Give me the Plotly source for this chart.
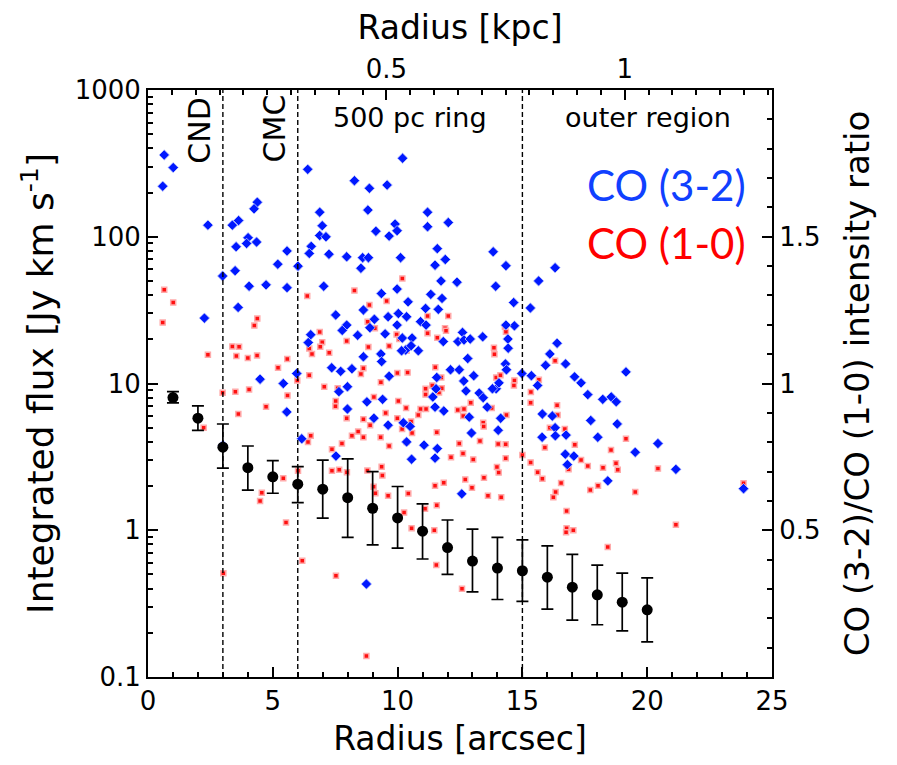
import plotly.graph_objects as go

# CO (3-2) integrated flux per clump: radius [arcsec], flux [Jy km/s]
co32_r = [0.65, 1.01, 0.59, 2.40, 2.26, 2.99, 3.38, 3.63, 4.38, 4.25, 4.01, 3.95, 4.35, 3.53, 3.49, 4.05, 4.73, 3.61,
          5.57, 5.2, 5.57, 6.01, 6.4, 6.88, 6.98, 6.88, 7.13, 6.54, 6.46, 7.25, 7.04, 8.27, 8.87, 9.58, 10.2, 8.81,
          9.13, 9.66, 9.9, 9.98, 11.2, 11.2, 12.03, 7.96, 8.6, 8.83, 8.53, 10.12, 11.59, 11.5, 11.91, 12.38, 11.74,
          11.33, 11.78, 10.42, 9.98, 9.35, 8.63, 7.52, 7.96, 9.07, 9.62, 10.03, 10.36, 11.12, 11.63, 10.92, 11.14,
          9.98, 8.89, 7.78, 13.83, 14.34, 13.93, 14.65, 14.68, 15.65, 16.31, 15.32, 8.4, 9.5, 10.32, 6.52, 6.42,
          8.63, 9.33, 9.36, 7.36, 7.72, 8.17, 9.66, 5.96, 7.99, 7.65, 9.4, 8.77, 7.99, 9.05, 9.62, 10.23, 6.16, 7.53,
          10.36, 12.6, 11.83, 12.42, 12.66, 12.91, 13.41, 10.19, 10.58, 10.54, 10.16, 10.83, 14.34, 14.42, 14.43,
          12.81, 14.32, 14.36, 12.12, 12.47, 12.65, 12.74, 11.57, 11.54, 11.41, 13.27, 13.43, 13.95, 13.8, 13.59,
          11.5, 11.85, 12.87, 14.13, 10.5, 14.03, 12.96, 11.06, 11.59, 10.56, 14.98, 16.39, 16.1, 15.93, 16.73,
          15.36, 15.61, 17.09, 17.35, 17.62, 18.22, 18.56, 18.76, 19.15, 15.8, 16.2, 16.31, 17.74, 18.8, 15.79,
          16.32, 16.75, 18.02, 16.72, 17.06, 16.8, 19.52, 18.42, 21.15, 20.43, 23.86, 12.57, 13.05, 14.06, 4.49,
          5.42, 5.56, 3.0, 11.5, 8.75]
co32_flux = [361, 296, 221, 120, 27.9, 54, 120, 129, 172, 155, 98.6, 90, 92, 85.5, 58.7, 46, 47, 33,
             80, 65, 45, 63, 288, 147, 119, 102, 100, 86, 77, 76, 46, 241, 214, 225, 343, 152,
             109, 101, 122, 110, 147, 117, 125, 73, 72, 72, 61, 72, 83, 64, 70, 49, 50,
             40.5, 38, 36, 44, 41, 31.7, 29.3, 25, 27.4, 28.5, 30, 28.5, 32.5, 32, 26.4, 25,
             25, 24, 23, 79, 63.5, 46, 35.6, 24.7, 50, 61.5, 32.7, 21.3, 21.8, 16.9, 21.5, 19,
             15.2, 15.9, 14.1, 12.8, 12.1, 12.6, 11.2, 11.7, 9.5, 8.8, 7.8, 7.5, 6.7, 5.8, 5.2, 5.4, 4.2, 3.2,
             4.0, 22.3, 19.3, 19.3, 19.8, 20.1, 20.8, 20.4, 20.4, 18.1, 16.7, 16.7, 25, 20.1, 17.4,
             14.8, 13.6, 12.4, 12.4, 12.4, 10.4, 8.9, 11, 9.2, 8.1, 8.6, 8.0, 9.2, 9.2, 6.9,
             6.9, 6.5, 5.9, 5.8, 5.1, 4.8, 4.6, 3.8, 3.6, 3.05, 11.7, 18.8, 15.9, 13.3, 13.6,
             11.3, 9.7, 11.1, 10.1, 8.4, 7.8, 8.1, 7.5, 12, 6.2, 6.0, 5.0, 5.6, 5.3, 4.3,
             4.4, 4.45, 4.3, 3.3, 3.2, 2.8, 3.4, 2.17, 2.6, 3.9, 1.92, 1.77, 11.3, 10.1, 10.7,
             10.0, 6.4, 3.8, 3.1, 0.43]

# CO (1-0) integrated flux per clump
co10_r = [0.65, 1.01, 0.59, 4.38, 4.26, 6.38, 8.27, 8.87, 9.56, 10.19, 8.8, 9.09, 11.2, 12.03, 11.9, 14.3,
          6.88, 6.98, 6.46, 6.9, 6.57, 7.26, 7.96, 8.83, 9.66, 9.96, 10.07, 6.46, 5.98, 7.06, 8.63, 8.53, 9.33,
          9.99, 10.4, 9.05, 7.52, 7.51, 7.96, 8.63, 8.9, 9.52, 9.99, 10.03, 10.34, 10.18, 10.36, 9.32, 8.63, 8.17,
          8.42, 9.66, 7.77, 6.52, 6.41, 7.37, 2.4, 3.38, 3.65, 3.54, 4.0, 4.37, 5.58, 5.21, 2.99, 3.5, 4.05, 5.59,
          3.62, 4.73, 2.23, 6.01, 5.42, 4.56, 4.49, 5.53, 7.6, 7.37, 7.66, 7.97, 7.96, 8.79, 9.36, 9.39, 9.04,
          9.11, 9.62, 10.26, 10.43, 10.56, 11.47, 11.1, 11.57, 11.5, 11.85, 12.14, 6.18, 11.55, 3.02, 7.53, 8.75,
          12.58, 12.47, 12.62, 13.03, 13.3, 14.03, 14.33, 12.71, 12.98, 13.46, 13.98, 14.05, 13.62, 14.15, 14.33,
          15.0, 15.33, 15.61, 11.2, 11.59, 11.94, 10.36, 14.34, 13.86, 13.88, 11.51, 11.75, 13.95, 14.68, 14.66,
          11.12, 11.12, 11.39, 11.66, 11.77, 10.83, 10.92, 11.14, 12.41, 12.63, 12.66, 12.93, 14.36, 13.43, 13.45,
          13.77, 10.54, 10.58, 11.57, 16.31, 15.66, 15.34, 16.39, 16.41, 16.1, 16.7, 15.9, 17.1, 15.8, 16.55,
          16.85, 17.35, 17.62, 18.23, 18.75, 18.82, 18.55, 19.15, 18.03, 17.72, 16.33, 16.24, 16.77, 16.77, 17.04,
          19.52, 21.15, 18.42, 20.43, 23.86, 14.12, 15.33, 16.75]
co10_flux = [43.6, 35.6, 26, 27.7, 24.8, 39.5, 43, 34.3, 36.5, 52, 26.4, 23.8, 28.8, 28.8, 23.8, 24.4,
             22.4, 19.1, 17.3, 17.8, 15.9, 16.2, 19.5, 17.7, 18, 21.6, 20.1, 11.4, 10.5, 9.5, 12.7, 11.6, 10.2,
             11.8, 11.9, 8.1, 7.6, 7.0, 5.8, 5.7, 5.2, 6.3, 5.8, 7.6, 6.8, 4.9, 4.0, 4.3, 4.3, 4.4,
             4.7, 3.75, 3.9, 4.4, 4.0, 3.56, 15.7, 17.9, 17.8, 15.4, 14.9, 15.5, 14.7, 12.8, 8.65, 8.8, 9.1, 8.3,
             6.2, 6.95, 5.0, 2.54, 2.26, 1.80, 1.58, 1.13, 9.3, 2.54, 2.58, 2.48, 1.65, 2.55, 2.71, 2.36, 1.98,
             1.79, 1.72, 1.32, 1.78, 1.03, 1.0, 1.40, 1.48, 2.01, 2.11, 3.14, 0.62, 0.58, 0.51, 0.49, 0.139,
             0.40, 3.9, 3.34, 3.04, 4.06, 3.87, 3.85, 2.22, 1.95, 2.28, 2.7, 2.47, 1.72, 1.68, 3.1,
             3.26, 2.9, 2.48, 22, 20.5, 22.9, 16.7, 22.5, 17.5, 15.8, 12.9, 11, 11, 10.5, 9.7,
             9.2, 8.4, 9.7, 8.7, 9.3, 6.1, 6.7, 6.7, 6.6, 6.0, 6.7, 7.4, 6.1, 5.4, 5.1,
             6.8, 5.5, 4.6, 4.65, 14.3, 10.6, 8.75, 7.1, 6.1, 5.0, 4.9, 3.66, 3.83, 2.24, 2.1,
             2.6, 3.01, 2.74, 2.67, 2.86, 2.58, 3.52, 4.2, 2.01, 1.88, 1.82, 1.68, 1.35, 1.03, 1.0,
             1.82, 1.09, 0.77, 2.63, 2.09, 11.4, 7.4, 0.97]

# radial profile of the CO (3-2)/CO (1-0) intensity ratio (right axis)
ratio_r = list(range(1, 21))  # arcsec
ratio_val = [0.952, 0.882, 0.783, 0.713, 0.682, 0.657, 0.640, 0.611, 0.575, 0.542, 0.497, 0.441, 0.395,
             0.371, 0.362, 0.340, 0.306, 0.280, 0.255, 0.229]
ratio_hi = [0.972, 0.924, 0.862, 0.787, 0.737, 0.717, 0.739, 0.743, 0.700, 0.649, 0.590, 0.535, 0.504,
            0.476, 0.467, 0.447, 0.418, 0.381, 0.354, 0.338]
ratio_lo = [0.934, 0.840, 0.712, 0.637, 0.626, 0.594, 0.541, 0.476, 0.450, 0.439, 0.402, 0.350, 0.290,
            0.264, 0.258, 0.231, 0.194, 0.178, 0.157, 0.120]

region_edges = [3, 6, 15]
kpc_per_arcsec = 1 / 19.1

FONT = "DejaVu Sans, Verdana, sans-serif"

fig = go.Figure()
fig.add_trace(go.Scatter(x=co10_r, y=co10_flux, mode="markers", name="CO (1-0)",
                         marker=dict(symbol="square", size=5, color="#ff1010",
                                     line=dict(color="#ffaaaa", width=1.5))))
fig.add_trace(go.Scatter(x=co32_r, y=co32_flux, mode="markers", name="CO (3-2)",
                         marker=dict(symbol="diamond", size=8, color="#0018ff",
                                     line=dict(color="#c8d0ff", width=0.8))))
# ratio profile is drawn against the top (kpc) and right (ratio) axes
fig.add_trace(go.Scatter(
    x=[r * kpc_per_arcsec for r in ratio_r], y=ratio_val, xaxis="x2", yaxis="y2",
    mode="markers", name="ratio",
    marker=dict(symbol="circle", size=11, color="black"),
    error_y=dict(type="data", symmetric=False,
                 array=[h - v for h, v in zip(ratio_hi, ratio_val)],
                 arrayminus=[v - l for v, l in zip(ratio_val, ratio_lo)],
                 color="black", thickness=1.7, width=6)))

for xe in region_edges:
    fig.add_shape(type="line", xref="x", yref="paper", x0=xe, x1=xe, y0=0, y1=1,
                  line=dict(color="black", width=1.4, dash="5px,3px"))


def label(x, y, text, size, color="black", family=FONT, angle=0, xanchor="center"):
    fig.add_annotation(x=x, y=y, xref="paper", yref="paper", text=text, textangle=angle,
                       xanchor=xanchor, yanchor="middle", showarrow=False,
                       font=dict(family=family, size=size, color=color))


label(0.083, 0.932, "CND", 30, angle=-90)
label(0.203, 0.934, "CMC", 30, angle=-90)
label(0.42, 0.954, "500 pc ring", 27)
label(0.801, 0.954, "outer region", 27)
label(0.962, 0.838, "CO (3-2)", 42, color="#1040ff", family="Lato, sans-serif", xanchor="right")
label(0.962, 0.739, "CO (1-0)", 42, color="#ff0000", family="Lato, sans-serif", xanchor="right")

axis_common = dict(showline=True, linecolor="black", linewidth=2, ticks="inside", tickcolor="black",
                   tickwidth=1.5, showgrid=False, zeroline=False, automargin=False,
                   tickfont=dict(family=FONT, size=26, color="black"))
title_font = dict(family=FONT, size=33, color="black")

log_minor = [m * 10 ** e for e in range(-1, 3) for m in range(2, 10)]

fig.update_layout(
    width=897, height=765,
    margin=dict(l=140, r=133, t=82, b=96),
    paper_bgcolor="white", plot_bgcolor="white",
    showlegend=False,
    xaxis=dict(range=[0, 25], tickvals=[0, 5, 10, 15, 20, 25], ticklen=10,
               minor=dict(tickvals=list(range(0, 26)), ticklen=5, ticks="inside", tickcolor="black"),
               title=dict(text="Radius [arcsec]", font=title_font, standoff=12),
               **axis_common),
    xaxis2=dict(range=[0, 25 * kpc_per_arcsec], overlaying="x", side="top", anchor="y",
                tickvals=[0.5, 1], ticktext=["0.5", "1"], ticklen=10,
                minor=dict(tickvals=[i * 0.05 for i in range(0, 27)], ticklen=5, ticks="inside",
                           tickcolor="black"),
                title=dict(text="Radius [kpc]", font=title_font, standoff=8),
                **axis_common),
    yaxis=dict(type="log", range=[-1, 3], tickvals=[0.1, 1, 10, 100, 1000],
               ticktext=["0.1", "1", "10", "100", "1000"], ticklen=10,
               minor=dict(tickvals=log_minor, ticklen=5, ticks="inside", tickcolor="black"),
               title=dict(text="Integrated flux [Jy km s<sup>-1</sup>]",
                          font=dict(family=FONT, size=36, color="black"), standoff=10),
               **axis_common),
    yaxis2=dict(range=[0, 2], overlaying="y", side="right", anchor="x",
                tickvals=[0.5, 1, 1.5], ticktext=["0.5", "1", "1.5"], ticklen=10,
                minor=dict(tickvals=[i * 0.1 for i in range(0, 21)], ticklen=5, ticks="inside",
                           tickcolor="black"),
                title=dict(text="CO (3-2)/CO (1-0) intensity ratio",
                           font=dict(family=FONT, size=34, color="black"), standoff=26),
                **axis_common),
)

fig.write_html("out.html")
